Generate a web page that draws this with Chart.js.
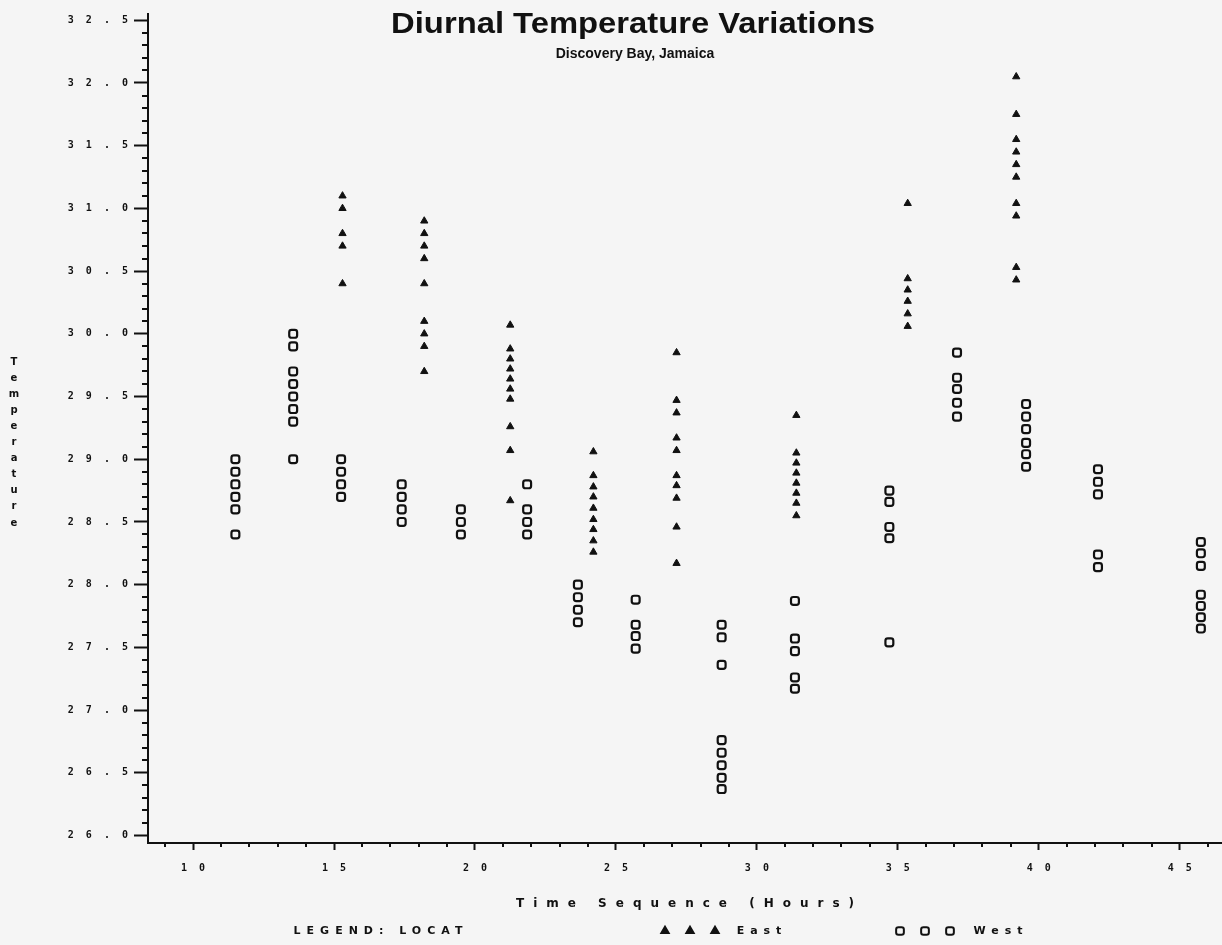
<!DOCTYPE html>
<html>
<head>
<meta charset="utf-8">
<title>Diurnal Temperature Variations</title>
<script src="https://cdn.jsdelivr.net/npm/chart.js@4.4.0/dist/chart.umd.min.js"></script>
<style>
  html, body { margin: 0; padding: 0; background: #f5f5f5; }
  #wrap { width: 1222px; height: 945px; }
</style>
</head>
<body>
<div id="wrap"><canvas id="tempChart" width="1222" height="945"></canvas></div>
<script>
// readings per sampling time, east and west location
const eastTimes = [15.3, 18.2, 21.25, 24.2, 27.15, 31.4, 35.35, 39.2];
const eastTemps = [
    [31.1, 31.0, 30.8, 30.7, 30.4],
    [30.9, 30.8, 30.7, 30.6, 30.4, 30.1, 30.0, 29.9, 29.7],
    [30.07, 29.88, 29.8, 29.72, 29.64, 29.56, 29.48, 29.26, 29.07, 28.67],
    [29.06, 28.87, 28.78, 28.7, 28.61, 28.52, 28.44, 28.35, 28.26],
    [29.85, 29.47, 29.37, 29.17, 29.07, 28.87, 28.79, 28.69, 28.46, 28.17],
    [29.35, 29.05, 28.97, 28.89, 28.81, 28.73, 28.65, 28.55],
    [31.04, 30.44, 30.35, 30.26, 30.16, 30.06],
    [32.05, 31.75, 31.55, 31.45, 31.35, 31.25, 31.04, 30.94, 30.53, 30.43]
];

const westTimes = [11.5, 13.55, 15.25, 17.4, 19.5, 21.85, 23.65, 25.7, 28.75, 31.35, 34.7, 37.1, 39.55, 42.1, 45.75];
const westTemps = [
    [29.0, 28.9, 28.8, 28.7, 28.6, 28.4],
    [30.0, 29.9, 29.7, 29.6, 29.5, 29.4, 29.3, 29.0],
    [29.0, 28.9, 28.8, 28.7],
    [28.8, 28.7, 28.6, 28.5],
    [28.6, 28.5, 28.4],
    [28.8, 28.6, 28.5, 28.4],
    [28.0, 27.9, 27.8, 27.7],
    [27.88, 27.68, 27.59, 27.49],
    [27.68, 27.58, 27.36, 26.76, 26.66, 26.56, 26.46, 26.37],
    [27.87, 27.57, 27.47, 27.26, 27.17],
    [28.75, 28.66, 28.46, 28.37, 27.54],
    [29.85, 29.65, 29.56, 29.45, 29.34],
    [29.44, 29.34, 29.24, 29.13, 29.04, 28.94],
    [28.92, 28.82, 28.72, 28.24, 28.14],
    [28.34, 28.25, 28.15, 27.92, 27.83, 27.74, 27.65]
];

const xTicks = [10, 15, 20, 25, 30, 35, 40, 45];
const yTicks = [26.0, 26.5, 27.0, 27.5, 28.0, 28.5, 29.0, 29.5, 30.0, 30.5, 31.0, 31.5, 32.0, 32.5];

const ink = '#111111';
const paper = '#f5f5f5';
const monoFont = { family: '"DejaVu Sans Mono", monospace', size: 10, weight: 'bold' };

function toPoints(times, temps) {
    return times.flatMap((t, i) => temps[i].map(v => ({ x: t, y: v })));
}

// spread characters out like the old plotter labels
function spaced(str) {
    return str.split('').join('  ');
}

// text with letter spacing (single fillText when the browser allows it)
function spacedText(ctx, text, x, y, gap) {
    if ('letterSpacing' in ctx) {
        ctx.letterSpacing = gap + 'px';
        const w = ctx.measureText(text).width - gap;
        ctx.textAlign = 'left';
        ctx.fillText(text, x - w / 2, y);
        ctx.letterSpacing = '0px';
    } else {
        ctx.textAlign = 'center';
        ctx.fillText(text, x, y);
    }
}

const decorations = {
    id: 'decorations',
    afterDraw(chart) {
        const ctx = chart.ctx;
        const xs = chart.scales.x;
        const ys = chart.scales.y;
        const area = chart.chartArea;
        ctx.save();
        ctx.strokeStyle = ink;
        ctx.fillStyle = ink;
        ctx.lineWidth = 2;

        // minor ticks
        ctx.beginPath();
        for (let k = 260; k <= 325; k++) {
            if (k % 5 === 0) continue;
            const py = Math.round(ys.getPixelForValue(k / 10));
            ctx.moveTo(area.left - 6, py);
            ctx.lineTo(area.left, py);
        }
        for (let k = 9; k <= 46; k++) {
            if (k % 5 === 0) continue;
            const px = Math.round(xs.getPixelForValue(k));
            ctx.moveTo(px, area.bottom);
            ctx.lineTo(px, area.bottom + 4);
        }
        ctx.stroke();

        // title (the old font is wide, so stretch a little)
        ctx.textBaseline = 'alphabetic';
        ctx.textAlign = 'center';
        ctx.save();
        ctx.translate(633, 33);
        ctx.scale(1.13, 1);
        ctx.font = 'bold 29px "Liberation Sans", Arial, sans-serif';
        ctx.fillText('Diurnal Temperature Variations', 0, 0);
        ctx.restore();
        ctx.font = 'bold 14px "Liberation Sans", Arial, sans-serif';
        ctx.fillText('Discovery Bay, Jamaica', 635, 58);

        // y axis title, letters stacked
        ctx.font = 'bold 10px "DejaVu Sans", sans-serif';
        ctx.textBaseline = 'middle';
        const word = 'Temperature';
        for (let i = 0; i < word.length; i++) {
            ctx.fillText(word[i], 14, 362 + i * 16.1);
        }

        // x axis title
        ctx.font = 'bold 12px "DejaVu Sans", sans-serif';
        spacedText(ctx, 'Time Sequence (Hours)', (area.left + area.right) / 2, 904, 9);

        // legend
        const ly = 931;
        ctx.font = 'bold 11px "DejaVu Sans", sans-serif';
        spacedText(ctx, 'LEGEND: LOCAT', 378, ly, 6);
        [665, 690, 715].forEach(px => {
            Chart.helpers.drawPoint(ctx, { pointStyle: 'triangle', radius: 4.2, rotation: 0, borderWidth: 1 }, px, ly);
        });
        spacedText(ctx, 'East', 759, ly, 6);
        ctx.fillStyle = paper;
        [900, 925, 950].forEach(px => {
            Chart.helpers.drawPoint(ctx, { pointStyle: 'rectRounded', radius: 4.5, rotation: 0, borderWidth: 2 }, px, ly);
        });
        ctx.fillStyle = ink;
        spacedText(ctx, 'West', 998, ly, 6);
        ctx.restore();
    }
};

const ctx = document.getElementById('tempChart');

new Chart(ctx, {
    type: 'scatter',
    data: {
        datasets: [{
            label: 'East',
            data: toPoints(eastTimes, eastTemps),
            pointStyle: 'triangle',
            pointRadius: 4.2,
            backgroundColor: ink,
            borderColor: ink,
            borderWidth: 1
        }, {
            label: 'West',
            data: toPoints(westTimes, westTemps),
            pointStyle: 'rectRounded',
            pointRadius: 4.6,
            backgroundColor: paper,
            borderColor: ink,
            borderWidth: 2.2
        }]
    },
    options: {
        responsive: false,
        animation: false,
        layout: { autoPadding: false, padding: { top: 14, right: 0, bottom: 0, left: 0 } },
        plugins: {
            legend: { display: false },
            title: { display: false },
            tooltip: { enabled: false }
        },
        scales: {
            x: {
                type: 'linear',
                min: 8.4,
                max: 46.5,
                afterBuildTicks: s => { s.ticks = xTicks.map(v => ({ value: v })); },
                afterFit: s => { s.height = 102; },
                grid: { drawOnChartArea: false, tickLength: 7, tickWidth: 2, tickColor: ink },
                border: { color: ink, width: 2 },
                ticks: {
                    color: ink,
                    font: monoFont,
                    padding: 12,
                    maxRotation: 0,
                    autoSkip: false,
                    callback: v => spaced(String(v))
                }
            },
            y: {
                min: 25.94,
                max: 32.55,
                afterBuildTicks: s => { s.ticks = yTicks.map(v => ({ value: v })); },
                afterFit: s => { s.width = 148; },
                grid: { drawOnChartArea: false, tickLength: 14, tickWidth: 2, tickColor: ink },
                border: { color: ink, width: 2 },
                ticks: {
                    color: ink,
                    font: monoFont,
                    padding: 6,
                    autoSkip: false,
                    callback: v => spaced(Number(v).toFixed(1))
                }
            }
        }
    },
    plugins: [decorations]
});
</script>
</body>
</html>
